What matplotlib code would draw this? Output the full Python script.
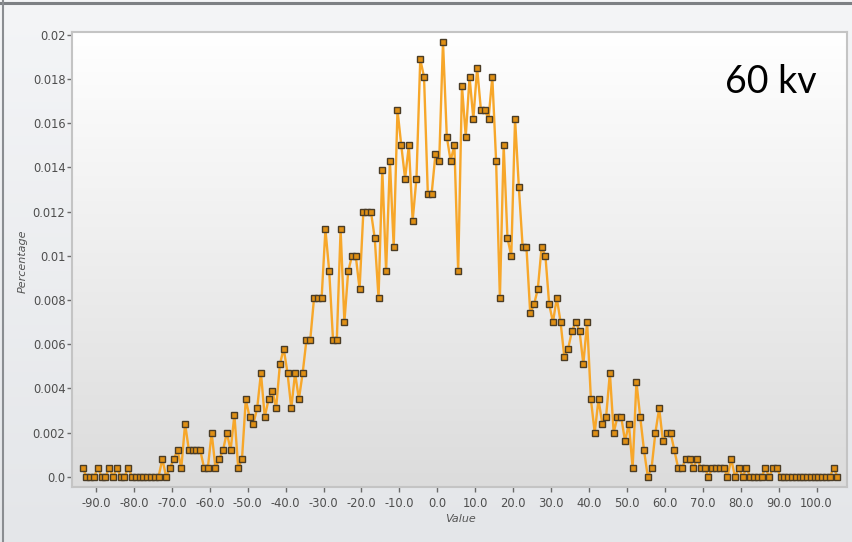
import numpy as np
import matplotlib
matplotlib.use("Agg")
import matplotlib.pyplot as plt
from matplotlib.lines import Line2D

# bin centres and share of samples per bin
values = np.arange(-93.5, 106.0, 1.0)
percentage = [
    # -93.5 .. -62.5
    0.0004, 0, 0, 0, 0.0004, 0, 0, 0.0004, 0, 0.0004,
    0, 0, 0.0004, 0, 0, 0, 0, 0, 0, 0,
    0, 0.0008, 0, 0.0004, 0.0008, 0.0012, 0.0004, 0.0024, 0.0012, 0.0012,
    0.0012, 0.0012,
    # -61.5 .. -26.5
    0.0004, 0.0004, 0.0020, 0.0004, 0.0008, 0.0012, 0.0020, 0.0012, 0.0028, 0.0004,
    0.0008, 0.0035, 0.0027, 0.0024, 0.0031, 0.0047, 0.0027, 0.0035, 0.0039, 0.0031,
    0.0051, 0.0058, 0.0047, 0.0031, 0.0047, 0.0035, 0.0047, 0.0062, 0.0062, 0.0081,
    0.0081, 0.0081, 0.0112, 0.0093, 0.0062, 0.0062,
    # -25.5 .. 6.5
    0.0112, 0.0070, 0.0093, 0.0100, 0.0100, 0.0085, 0.0120, 0.0120, 0.0120, 0.0108,
    0.0081, 0.0139, 0.0093, 0.0143, 0.0104, 0.0166, 0.0150, 0.0135, 0.0150, 0.0116,
    0.0135, 0.0189, 0.0181, 0.0128, 0.0128, 0.0146, 0.0143, 0.0197, 0.0154, 0.0143,
    0.0150, 0.0093, 0.0177,
    # 7.5 .. 39.5
    0.0154, 0.0181, 0.0162, 0.0185, 0.0166, 0.0166, 0.0162, 0.0181, 0.0143, 0.0081,
    0.0150, 0.0108, 0.0100, 0.0162, 0.0131, 0.0104, 0.0104, 0.0074, 0.0078, 0.0085,
    0.0104, 0.0100, 0.0078, 0.0070, 0.0081, 0.0070, 0.0054, 0.0058, 0.0066, 0.0070,
    0.0066, 0.0051, 0.0070,
    # 40.5 .. 71.5
    0.0035, 0.0020, 0.0035, 0.0024, 0.0027, 0.0047, 0.0020, 0.0027, 0.0027, 0.0016,
    0.0024, 0.0004, 0.0043, 0.0027, 0.0012, 0.0, 0.0004, 0.0020, 0.0031, 0.0016,
    0.0020, 0.0020, 0.0012, 0.0004, 0.0004, 0.0008, 0.0008, 0.0004, 0.0008, 0.0004,
    0.0004, 0,
    # 72.5 .. 105.5
    0.0004, 0.0004, 0.0004, 0.0004, 0, 0.0008, 0, 0.0004, 0, 0.0004,
    0, 0, 0, 0, 0.0004, 0, 0.0004, 0.0004, 0, 0,
    0, 0, 0, 0, 0, 0, 0, 0, 0, 0,
    0, 0, 0.0004, 0,
]

x_ticks = np.arange(-90, 101, 10)
x_labels = ["%.1f" % t for t in x_ticks]
y_ticks = np.arange(0, 0.0201, 0.002)
y_labels = ["0.0", "0.002", "0.004", "0.006", "0.008", "0.01",
            "0.012", "0.014", "0.016", "0.018", "0.02"]

W, H = 852, 542
fig = plt.figure(figsize=(W / 100, H / 100), dpi=100)


def vgrad(top, bottom):
    t = np.linspace(0, 1, 256)[:, None]
    top = np.array(top) / 255
    bottom = np.array(bottom) / 255
    return (top * (1 - t) + bottom * t).reshape(256, 1, 3)


# window background
bg = fig.add_axes([0, 0, 1, 1], zorder=-5)
bg.imshow(vgrad([244, 245, 247], [228, 230, 233]),
          aspect="auto", extent=[0, 1, 0, 1], origin="upper")
bg.set_axis_off()
fig.add_artist(Line2D([0, 1], [1 - 3 / H, 1 - 3 / H], color="#7d8084", lw=2.2))
fig.add_artist(Line2D([3 / W, 3 / W], [0, 1], color="#8a8d91", lw=1.5))

ax = fig.add_axes([71.7 / W, 1 - 486.7 / H, (847.3 - 71.7) / W, (486.7 - 32.3) / H])
ax.imshow(vgrad([255, 255, 255], [220, 220, 220]),
          aspect="auto", extent=[0, 1, 0, 1], origin="upper",
          transform=ax.transAxes, zorder=0)

ax.plot(values, percentage, color="#f7a72a", lw=1.7, zorder=2,
        marker="s", ms=4.4, mfc="#df8f14", mec="#4a3c26", mew=1.0)

ax.set_xlim(-96.4, 108.1)
ax.set_ylim(-0.00045, 0.02012)
ax.set_xticks(x_ticks)
ax.set_xticklabels(x_labels)
ax.set_yticks(y_ticks)
ax.set_yticklabels(y_labels)
ax.tick_params(axis="both", labelsize=8.3, colors="#6a6a6a", labelcolor="#4e4e4e",
               length=3.5, width=1)
ax.tick_params(axis="x", pad=4)
ax.tick_params(axis="y", pad=1)
for s in ax.spines.values():
    s.set_color("#c4c4c4")
    s.set_linewidth(1.5)

fig.text(22.7 / W, 1 - 261.7 / H, "Percentage", rotation=90, style="italic",
         fontsize=8, color="#555555", ha="center", va="center")
fig.text(460 / W, 1 - 519.3 / H, "Value", style="italic",
         fontsize=8, color="#555555", ha="center", va="center")

ax.text(0.96, 0.89, "60 kv", transform=ax.transAxes, fontsize=27,
        family=["Lato", "DejaVu Sans"], color="black", ha="right", va="center")

fig.savefig("out.png", dpi=100)
